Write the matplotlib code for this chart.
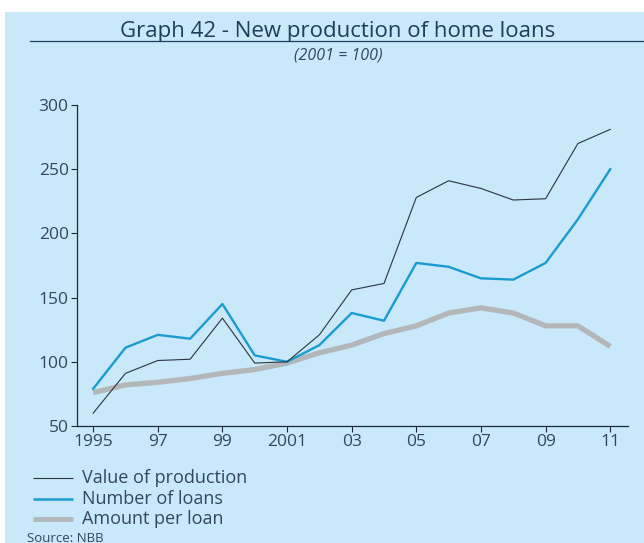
import matplotlib.pyplot as plt
from matplotlib.patches import Rectangle
from matplotlib.lines import Line2D

years = list(range(1995, 2012))
value_of_production = [60, 91, 101, 102, 134, 99, 100, 121, 156, 161, 228, 241, 235, 226, 227, 270, 281]
number_of_loans = [79, 111, 121, 118, 145, 105, 100, 113, 138, 132, 177, 174, 165, 164, 177, 211, 250]
amount_per_loan = [76, 82, 84, 87, 91, 94, 99, 107, 113, 122, 128, 138, 142, 138, 128, 128, 112]
tick_years = [1995, 1997, 1999, 2001, 2003, 2005, 2007, 2009, 2011]
tick_labels = ["1995", "97", "99", "2001", "03", "05", "07", "09", "11"]

plt.rcParams['font.family'] = ['Open Sans', 'DejaVu Sans']
bg = '#c9e8f9'
txt = '#34475c'

fig = plt.figure(figsize=(6.44, 5.43), dpi=100, facecolor='white')
fig.patches.append(Rectangle((5 / 644, 0), 1, 1 - 12 / 543, transform=fig.transFigure,
                             facecolor=bg, edgecolor='none', zorder=-10))

ax = fig.add_axes([77 / 644, 1 - 426 / 543, (628 - 77) / 644, (426 - 105) / 543])
ax.set_facecolor('none')
ax.plot(years, amount_per_loan, color='#b4b7ba', lw=3.8, solid_capstyle='butt')
ax.plot(years, number_of_loans, color='#1a9cd0', lw=1.7)
ax.plot(years, value_of_production, color='#2b3440', lw=0.8)

ax.set_xlim(1994.5, 2011.55)
ax.set_ylim(50, 300)
ax.set_yticks([50, 100, 150, 200, 250, 300])
ax.set_xticks(tick_years)
ax.set_xticklabels(tick_labels)
for s in ['top', 'right']:
    ax.spines[s].set_visible(False)
for s in ['left', 'bottom']:
    ax.spines[s].set_color('#1e2a38')
    ax.spines[s].set_linewidth(0.9)
ax.tick_params(colors='#1e2a38', labelcolor=txt, labelsize=12.5, length=4, width=0.8, pad=2)

# title with rule underneath
fig.text(338 / 644, 1 - 31 / 543, "Graph 42 - New production of home loans",
         ha='center', va='center', fontsize=16, color='#1f3d5c')
fig.add_artist(Line2D([30 / 644, 1], [1 - 41 / 543, 1 - 41 / 543], color='#1f3d5c', lw=0.9))
fig.text(338 / 644, 1 - 55 / 543, "(2001 = 100)", ha='center', va='center',
         fontsize=11.5, style='italic', color=txt)

# legend
legend_rows = [("Value of production", '#2b3440', 0.8),
               ("Number of loans", '#1a9cd0', 1.8),
               ("Amount per loan", '#b4b7ba', 3.5)]
for i, (label, col, lw) in enumerate(legend_rows):
    y = 1 - (478 + i * 20.5) / 543
    fig.add_artist(Line2D([33 / 644, 73 / 644], [y, y], color=col, lw=lw, solid_capstyle='butt'))
    fig.text(82 / 644, y, label, va='center', ha='left', fontsize=13, color=txt)

fig.text(27 / 644, 1 - 538 / 543, "Source: NBB", va='center', ha='left', fontsize=9.5, color=txt)

fig.savefig('out.png', dpi=100, facecolor='white')
